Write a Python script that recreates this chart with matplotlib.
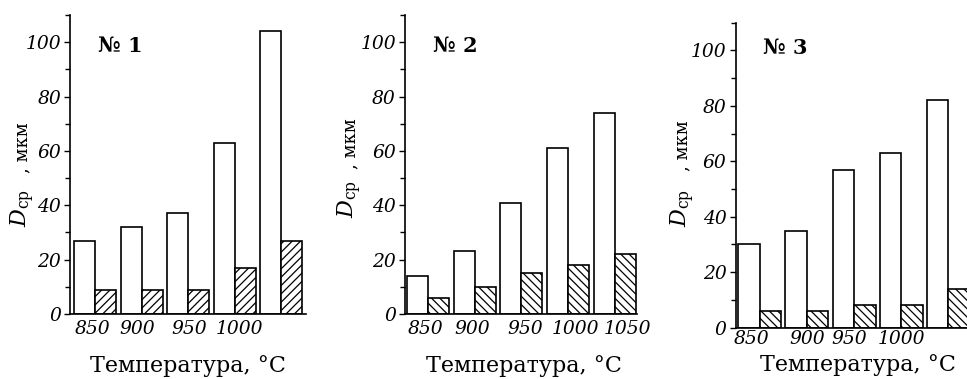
import numpy as np
import matplotlib
matplotlib.use('Agg')
from matplotlib import pyplot as plt
from matplotlib.ticker import MultipleLocator

plt.rcParams['font.family'] = 'DejaVu Serif'
plt.rcParams['mathtext.fontset'] = 'dejavuserif'
plt.rcParams['hatch.linewidth'] = 0.9

# Data (D_ср, мкм)
labels_1 = ['850', '900', '950', '1000', '']
labels_2 = ['850', '900', '950', '1000', '1050']
labels_3 = ['850', '900', '950', '1000', '']
white_1 = [27, 32, 37, 63, 104]
hatch_1 = [9, 9, 9, 17, 27]
white_2 = [14, 23, 41, 61, 74]
hatch_2 = [6, 10, 15, 18, 22]
white_3 = [30, 35, 57, 63, 82]
hatch_3 = [6, 6, 8, 8, 14]
titles = ['№ 1', '№ 2', '№ 3']

xlabel = 'Температура, °С'
ylab_sym = r'$D_{\mathrm{ср}}$'
ylab_unit = ', мкм'

# Layout (figure fractions / axes fractions)
rects = [(0.0724, 0.1715, 0.244, 0.789),
         (0.4188, 0.1715, 0.2399, 0.789),
         (0.7608, 0.1354, 0.2444, 0.805)]
xlims = [(-0.54, 4.53), (-0.49, 4.475), (-0.51, 4.5)]
widths = [0.45, 0.45, 0.455]
hatches = ['////', '\\\\\\\\', '\\\\\\\\']
tick_shift = [[-0.05, -0.09, 0.02, 0.11, 0],
              [-0.05, -0.06, 0.08, 0.15, 0.28],
              [-0.17, 0, -0.1, 0, 0]]
tick_pad = [4.5, 4.5, 1.8]
title_pos = [(0.212, 0.896), (0.216, 0.895), (0.209, 0.917)]
xlab_pos = [(0.498, -0.174), (0.513, -0.174), (0.518, -0.122)]
# baseline x, start y of symbol, start y of unit (axes fractions)
ylab_pos = [(-0.182, 0.291, 0.472),
            (-0.216, 0.321, 0.485),
            (-0.206, 0.330, 0.514)]

panels = [(labels_1, white_1, hatch_1),
          (labels_2, white_2, hatch_2),
          (labels_3, white_3, hatch_3)]

fig = plt.figure(figsize=(9.67, 3.79), dpi=100)

for k, (labs, wv, hv) in enumerate(panels):
    ax = fig.add_axes(rects[k])
    x = np.arange(len(wv))
    w = widths[k]
    # white bar left of the group centre, hatched bar right of it
    ax.bar(x - w, wv, width=w, align='edge', facecolor='white',
           edgecolor='black', linewidth=1.2)
    ax.bar(x, hv, width=w, align='edge', facecolor='white',
           edgecolor='black', linewidth=1.2, hatch=hatches[k])

    ax.set_xlim(*xlims[k])
    ax.set_ylim(0, 110)
    ax.spines['top'].set_visible(False)
    ax.spines['right'].set_visible(False)
    ax.spines['left'].set_linewidth(1.2)
    ax.spines['bottom'].set_linewidth(1.2)

    ax.yaxis.set_major_locator(MultipleLocator(20))
    ax.yaxis.set_minor_locator(MultipleLocator(10))
    ax.tick_params(axis='y', which='major', direction='out', length=4.5,
                   width=1.0, pad=2, labelsize=13.5)
    ax.tick_params(axis='y', which='minor', direction='out', length=3.5,
                   width=1.0)
    for t in ax.get_yticklabels():
        t.set_style('italic')

    ax.set_xticks(x + np.array(tick_shift[k]))
    ax.set_xticklabels(labs, fontsize=13.5, style='italic')
    ax.tick_params(axis='x', length=0, pad=tick_pad[k])

    ax.text(title_pos[k][0], title_pos[k][1], titles[k], transform=ax.transAxes,
            ha='center', va='center', fontsize=15, fontweight='bold')
    ax.text(xlab_pos[k][0], xlab_pos[k][1], xlabel, transform=ax.transAxes,
            ha='center', va='center', fontsize=16)

    bx, sy, uy = ylab_pos[k]
    ax.text(bx, sy, ylab_sym, transform=ax.transAxes, rotation=90,
            rotation_mode='anchor', ha='left', va='baseline', fontsize=16)
    ax.text(bx, uy, ylab_unit, transform=ax.transAxes, rotation=90,
            rotation_mode='anchor', ha='left', va='baseline', fontsize=13)

fig.savefig('out.png', dpi=100, facecolor='white')
